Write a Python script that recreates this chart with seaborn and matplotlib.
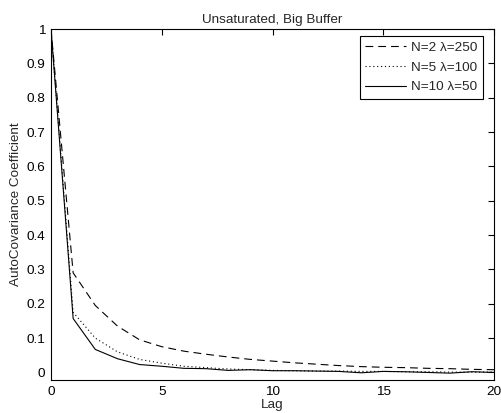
import numpy as np
import pandas as pd
import matplotlib
matplotlib.use("Agg")
import matplotlib.pyplot as plt
import seaborn as sns

lags = list(range(21))
n2_l250 = [1, 0.29, 0.195, 0.135, 0.095, 0.075, 0.062, 0.053, 0.045, 0.038, 0.033,
           0.028, 0.024, 0.020, 0.017, 0.015, 0.014, 0.012, 0.011, 0.009, 0.008]
n5_l100 = [1, 0.175, 0.10, 0.06, 0.038, 0.027, 0.018, 0.014, 0.010, 0.008, 0.006,
           0.005, 0.004, 0.004, 0.003, 0.003, 0.002, 0.002, 0.001, 0.001, 0.001]
n10_l50 = [1, 0.157, 0.067, 0.04, 0.023, 0.018, 0.012, 0.011, 0.006, 0.008, 0.005,
           0.005, 0.004, 0.003, -0.001, 0.003, 0.002, 0.0, -0.002, 0.002, 0.0]
labels = ["N=2 λ=250", "N=5 λ=100", "N=10 λ=50"]
title = "Unsaturated, Big Buffer"

sns.set_theme(style="white")
plt.rcParams['font.family'] = ['Liberation Sans', 'DejaVu Sans']
FS = 9.7

fig = plt.figure(figsize=(5.02, 4.13), dpi=100)
ax = fig.add_axes([51/502, 1-380/413, (494-51)/502, (380-29)/413])

styles = [(0, (7, 4.5)), (0, (1, 2.5)), '-']
for vals, lab, ls in zip([n2_l250, n5_l100, n10_l50], labels, styles):
    df = pd.DataFrame({"Lag": lags, "v": vals})
    sns.lineplot(data=df, x="Lag", y="v", ax=ax, color="black", linewidth=0.8,
                 linestyle=ls, label=lab)

ax.set_xlim(0, 20)
ax.set_ylim(-0.022, 1)
ax.set_xticks([0, 5, 10, 15, 20])
ax.set_xticklabels(["0", "5", "10", "15", "20"])
yt = [0, 0.1, 0.2, 0.3, 0.4, 0.5, 0.6, 0.7, 0.8, 0.9, 1]
ax.set_yticks(yt)
ax.set_yticklabels(["0"] + [f"{v:g}" for v in yt[1:-1]] + ["1"])
ax.tick_params(direction="in", length=4, width=0.8, top=True, right=True,
               labelsize=FS, pad=4, colors="black")
for s in ax.spines.values():
    s.set_visible(True)
    s.set_color("black")
    s.set_linewidth(0.8)
ax.set_xlabel("Lag", fontsize=FS, labelpad=1)
ax.set_ylabel("AutoCovariance Coefficient", fontsize=FS, labelpad=3)
ax.set_title(title, fontsize=FS, pad=4)

leg = ax.legend(loc="upper right", bbox_to_anchor=(483/502, 1-36/413),
                bbox_transform=fig.transFigure, borderaxespad=0,
                fontsize=FS, frameon=True, fancybox=False,
                edgecolor="black", framealpha=1,
                handlelength=3.0, handletextpad=0.4, labelspacing=0.55, borderpad=0.4)
leg.get_frame().set_linewidth(0.8)

fig.savefig("out.png", dpi=100)
